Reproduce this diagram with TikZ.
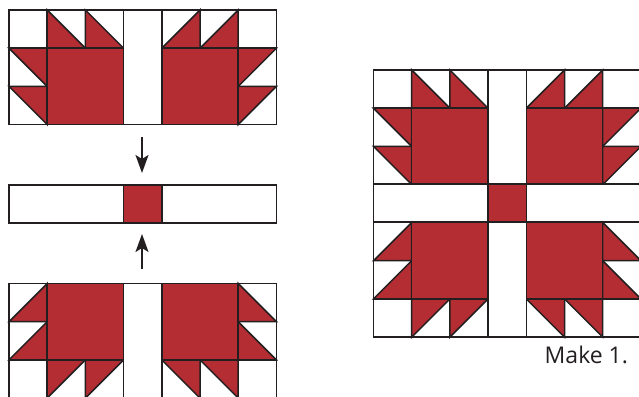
\documentclass[tikz,border=0pt]{standalone}
\usepackage{xcolor}
\usepackage{fontspec}
\setmainfont{Open Sans}
\usetikzlibrary{arrows.meta}
\definecolor{quiltRed}{HTML}{B32D33}
\definecolor{quiltInk}{HTML}{231F20}
\tikzset{
  patch/.style={draw=quiltInk,line width=1.5pt,line join=miter,fill=white},
  redpatch/.style={patch,fill=quiltRed},
  arrow/.style={-{Stealth[length=18pt,width=13pt,inset=4pt]},draw=quiltInk,line width=2pt},
  caption/.style={font=\fontsize{23}{24}\selectfont,text=quiltInk,inner sep=0pt},
  claw/.pic={
    \draw[patch] (0,0) rectangle (3,1);
    \draw[patch] (0,0) rectangle (1,3);
    \foreach \i in {1,2}{
      \draw[patch] (\i,0) rectangle (\i+1,1);
      \draw[redpatch] (\i,0) -- (\i,1) -- (\i+1,1) -- cycle;
      \draw[patch] (0,\i) rectangle (1,\i+1);
      \draw[redpatch] (0,\i) -- (1,\i) -- (1,\i+1) -- cycle;
    }
    \draw[redpatch] (1,1) rectangle (3,3);
  },
  pics/quarters/.style={code={
    \pic[transform shape] at (0,0) {claw};
    \pic[transform shape,xscale=-1] at (7,0) {claw};
    \draw[patch] (3,0) rectangle (4,3);
  }},
  pics/flipped/.style={code={
    \pic[transform shape,yscale=-1] at (0,3) {claw};
    \pic[transform shape,xscale=-1,yscale=-1] at (7,3) {claw};
    \draw[patch] (3,0) rectangle (4,3);
  }},
  pics/strip/.style={code={
    \draw[patch] (0,0) rectangle (7,1);
    \draw[redpatch] (3,0) rectangle (4,1);
  }}
}

\begin{document}
\begin{tikzpicture}[x=1pt,y=-1pt]
\useasboundingbox (0,0) rectangle (639,396);
\pic[scale=38.2] at (9,10) {quarters};
\pic[scale=38.2] at (9,185) {strip};
\pic[scale=38.2] at (9,283.5) {flipped};

\pic[scale=38.2] at (373.5,70) {quarters};
\pic[scale=38.2] at (373.5,184) {strip};
\pic[scale=38.2] at (373.5,222.5) {flipped};

\coordinate (topstart) at (142,137);
\coordinate (topend) at (142,173);
\coordinate (botstart) at (142,269);
\coordinate (botend) at (142,234);
\draw[arrow] (topstart) -- (topend);
\draw[arrow] (botstart) -- (botend);

\node[caption,anchor=base west] (make) at (544.5,363) {Make 1.};
\end{tikzpicture}
\end{document}
